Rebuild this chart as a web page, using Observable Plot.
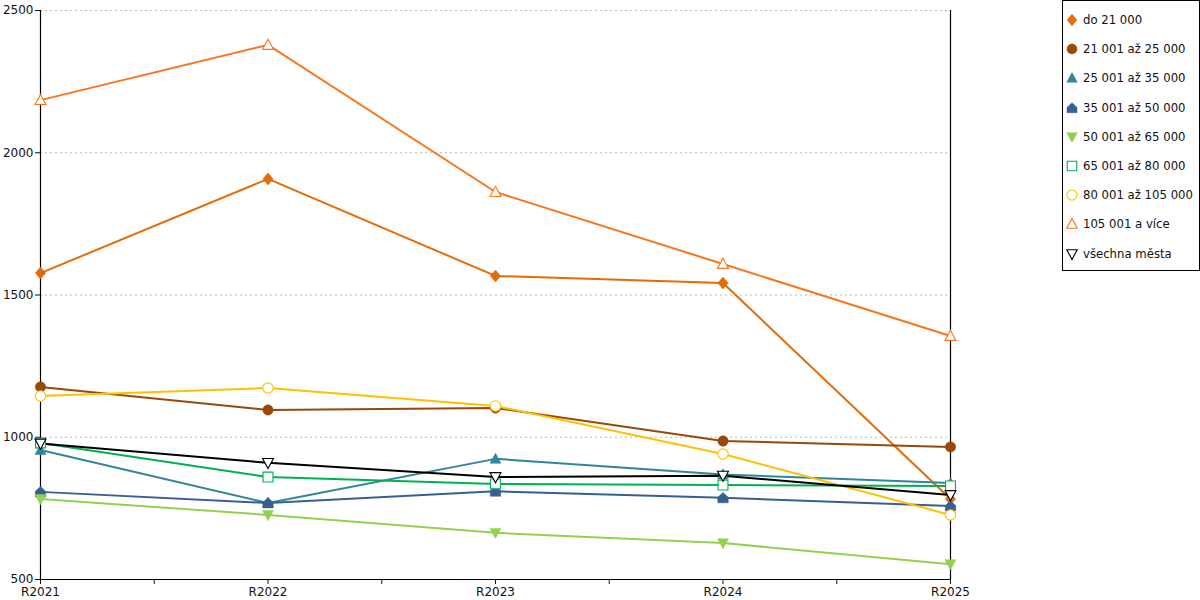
<!DOCTYPE html>
<html>
<head>
<meta charset="utf-8">
<script src="https://cdn.jsdelivr.net/npm/d3@7"></script>
<script src="https://cdn.jsdelivr.net/npm/@observablehq/plot@0.6"></script>
<style>
  body { margin: 0; background: #fff; font-family: "DejaVu Sans", sans-serif; }
  #wrap { position: relative; width: 1200px; height: 600px; }
  #legend { position: absolute; left: 1062px; top: 0px; width: 136px; height: 269px; border: 1px solid #000; background: #fff; box-sizing: content-box; }
  .item { position: absolute; left: 0; height: 20px; display: flex; align-items: center; font-size: 11.7px; color: #111; white-space: nowrap; }
  .item svg { margin-left: 2px; margin-right: 4px; }
</style>
</head>
<body>
<div id="wrap"><div id="chart"></div><div id="legend"></div></div>
<script>
const years = ["R2021", "R2022", "R2023", "R2024", "R2025"];
const seriesNames = ["do 21 000", "21 001 až 25 000", "25 001 až 35 000", "35 001 až 50 000", "50 001 až 65 000", "65 001 až 80 000", "80 001 až 105 000", "105 001 a více", "všechna města"];
const seriesColors = ["#e36c09", "#984807", "#31859c", "#376092", "#92d050", "#00b050", "#ffc000", "#f6771f", "#000000"];
const yTicks = [500, 1000, 1500, 2000, 2500];

const vDo21 = [1577, 1908, 1567, 1542, 783];
const v21to25 = [1177, 1096, 1103, 987, 966];
const v25to35 = [955, 769, 924, 869, 839];
const v35to50 = [808, 769, 810, 787, 758];
const v50to65 = [783, 727, 664, 628, 554];
const v65to80 = [980, 860, 836, 832, 829];
const v80to105 = [1145, 1173, 1110, 941, 727];
const v105plus = [2185, 2379, 1862, 1609, 1356];
const vAll = [978, 910, 860, 865, 797];

const allValues = [vDo21, v21to25, v25to35, v35to50, v50to65, v65to80, v80to105, v105plus, vAll];

// marker shapes
function poly(pts) {
  return { draw(ctx, size) {
    const r = Math.sqrt(size / Math.PI);
    pts.forEach(([x, y], i) => i ? ctx.lineTo(x * r, y * r) : ctx.moveTo(x * r, y * r));
    ctx.closePath();
  }};
}
const circleSym = { draw(ctx, size) { const r = Math.sqrt(size / Math.PI); ctx.moveTo(r, 0); ctx.arc(0, 0, r, 0, 2 * Math.PI); } };
const diamondSym = poly([[0, -1.15], [1.0, 0], [0, 1.15], [-1.0, 0]]);
const triUp = poly([[0, -1.1], [1.05, 0.85], [-1.05, 0.85]]);
const triDown = poly([[-1.05, -0.85], [1.05, -0.85], [0, 1.1]]);
const house = poly([[0, -1.05], [1.0, -0.1], [1.0, 0.95], [-1.0, 0.95], [-1.0, -0.1]]);
const squareSym = poly([[-0.95, -0.95], [0.95, -0.95], [0.95, 0.95], [-0.95, 0.95]]);
const symbols = [diamondSym, circleSym, triUp, house, triDown, squareSym, circleSym, triUp, triDown];
const filled = [true, true, true, true, true, false, false, false, false];

const rows = [];
allValues.forEach((arr, s) => arr.forEach((v, i) => rows.push({ series: seriesNames[s], s, i, value: v })));

const lineMarks = seriesNames.map((name, s) =>
  Plot.line(rows.filter(d => d.s === s), { x: "i", y: "value", stroke: seriesColors[s], strokeWidth: 2 }));
const dotMarks = seriesNames.map((name, s) =>
  Plot.dot(rows.filter(d => d.s === s), {
    x: "i", y: "value", r: 5.2, symbol: symbols[s],
    fill: filled[s] ? seriesColors[s] : "white",
    stroke: seriesColors[s], strokeWidth: filled[s] ? 0.5 : 1.1
  }));

const halfTicks = d3.range(0, 4.01, 0.5);

const chart = Plot.plot({
  width: 1200, height: 600,
  marginLeft: 40, marginRight: 250, marginTop: 10, marginBottom: 21,
  style: { fontFamily: "DejaVu Sans, sans-serif", fontSize: "12px", background: "white", color: "#111" },
  x: { type: "linear", domain: [0, 4] },
  y: { domain: [500, 2500] },
  marks: [
    Plot.gridY(yTicks.slice(1), { stroke: "#b8b8b8", strokeOpacity: 1, strokeDasharray: "2,3", strokeWidth: 1 }),
    Plot.axisY({ ticks: yTicks, tickSize: 5, tickPadding: 2, tickFormat: d => String(d), label: null }),
    Plot.axisX({ ticks: halfTicks, tickSize: 5, tickPadding: 3, tickFormat: d => Number.isInteger(d) ? years[d] : "", label: null }),
    Plot.ruleX([0, 4], { stroke: "black", strokeWidth: 1.2 }),
    Plot.ruleY([500], { stroke: "black", strokeWidth: 1.2 }),
    ...lineMarks,
    ...dotMarks
  ]
});
document.getElementById("chart").appendChild(chart);

// legend
const legend = document.getElementById("legend");
seriesNames.forEach((name, s) => {
  const div = document.createElement("div");
  div.className = "item";
  div.style.top = (9 + s * 29.2) + "px";
  const p = d3.path();
  symbols[s].draw(p, Math.PI * 5 * 5);
  div.innerHTML = `<svg width="14" height="14" viewBox="-7 -7 14 14"><path d="${p.toString()}" fill="${filled[s] ? seriesColors[s] : "white"}" stroke="${seriesColors[s]}" stroke-width="${filled[s] ? 0.5 : 1.1}"/></svg><span>${name}</span>`;
  legend.appendChild(div);
});
</script>
</body>
</html>
